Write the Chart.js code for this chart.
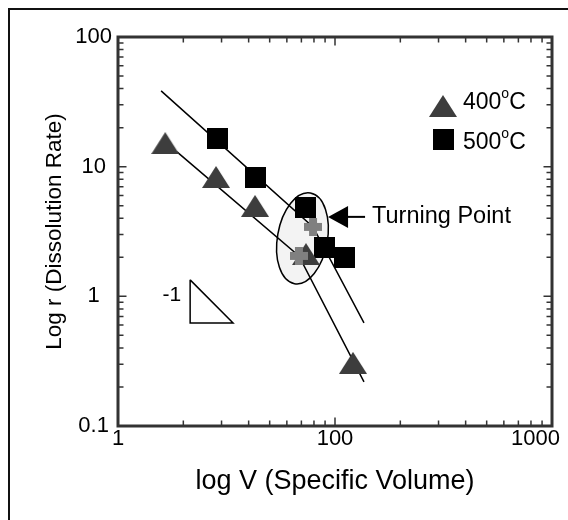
<!DOCTYPE html>
<html>
<head>
<meta charset="utf-8">
<script src="https://cdn.jsdelivr.net/npm/chart.js@4.4.1/dist/chart.umd.min.js"></script>
<style>
  html, body { margin: 0; padding: 0; background: #fff; }
</style>
</head>
<body>
<canvas id="dissolution" width="568" height="520"></canvas>
<script>
// Values: V = specific volume, r = dissolution rate
const v400 = [16.5, 28.3, 42.8, 73.5, 121]
const r400 = [15.2, 8.33, 4.98, 2.12, 0.307]
const v500 = [28.6, 43.2, 73.5, 89.9, 111]
const r500 = [16.4, 8.18, 4.8, 2.4, 2.01]
const vTurn = [79.2, 68.2]
const rTurn = [3.43, 2.05]

// fitted lines, bending at the turning points
const vFit500 = [15.8, 79.2, 136]
const rFit500 = [38.4, 3.43, 0.624]
const vFit400 = [18.7, 68.2, 136]
const rFit400 = [13.0, 2.05, 0.219]

// slope marker triangle
const vSlope = [21.5, 21.5, 33.9, 21.5]
const rSlope = [1.34, 0.624, 0.624, 1.34]

// axis labels as printed on the figure
const xTickValues = [10, 100, 1000]
const xTickLabels = ['1', '100', '1000']
const yTickValues = [0.1, 1, 10, 100]
const yTickLabels = ['0.1', '1', '10', '100']

// annotations (anchored in data units)
const ellipse = { v: 70.8, r: 2.8, rx: 25, ry: 46, angle: 10 }
const turnArrow = { v: 92.9, r: 4.1, text: 'Turning Point' }

const FONT = 'Arial, "Liberation Sans", Helvetica, sans-serif'
const pts = (xs, ys) => xs.map((x, i) => ({ x, y: ys[i] }))

function marker(w, h, draw) {
  const c = document.createElement('canvas')
  c.width = w
  c.height = h
  draw(c.getContext('2d'))
  return c
}
const triMark = marker(28, 22, g => {
  g.fillStyle = '#3d3d3d'
  g.beginPath()
  g.moveTo(14, 0)
  g.lineTo(28, 22)
  g.lineTo(0, 22)
  g.closePath()
  g.fill()
})
const sqMark = marker(21, 21, g => {
  g.fillStyle = '#000'
  g.fillRect(0, 0, 21, 21)
})
const crossMark = marker(18, 18, g => {
  g.fillStyle = '#808080'
  g.fillRect(5, 0, 8, 18)
  g.fillRect(0, 5, 18, 8)
})

const lineStyle = {
  showLine: true,
  borderColor: '#000',
  borderWidth: 1.5,
  pointRadius: 0,
  fill: false,
}

function pickLabel(values, labels, v) {
  const i = values.findIndex(t => Math.abs(Math.log10(t) - Math.log10(v)) < 1e-6)
  return i < 0 ? '' : labels[i]
}

// frame, inward ticks, x labels, legend and notes
const decor = {
  id: 'decor',
  beforeDraw(chart) {
    const { ctx, width, height } = chart
    ctx.save()
    ctx.fillStyle = '#fff'
    ctx.fillRect(0, 0, width, height)
    ctx.strokeStyle = '#111'
    ctx.lineWidth = 2
    ctx.beginPath()
    ctx.moveTo(9, height)
    ctx.lineTo(9, 9)
    ctx.lineTo(width, 9)
    ctx.stroke()
    ctx.restore()
  },
  beforeDatasetsDraw(chart) {
    const { ctx, scales: { x, y } } = chart
    const cx = x.getPixelForValue(ellipse.v)
    const cy = y.getPixelForValue(ellipse.r)
    ctx.save()
    ctx.beginPath()
    ctx.ellipse(cx, cy, ellipse.rx, ellipse.ry, ellipse.angle * Math.PI / 180, 0, 2 * Math.PI)
    ctx.fillStyle = '#f3f3f3'
    ctx.fill()
    ctx.strokeStyle = '#000'
    ctx.lineWidth = 1.5
    ctx.stroke()
    ctx.restore()
  },
  afterDraw(chart) {
    const { ctx, width, scales: { x, y } } = chart
    const { left, right, top, bottom } = chart.chartArea
    ctx.save()

    // plot box
    ctx.strokeStyle = '#333'
    ctx.lineWidth = 3
    ctx.strokeRect(left, top, right - left, bottom - top)

    // inward ticks on all four sides
    ctx.lineWidth = 1.5
    ctx.beginPath()
    for (const dec of [10, 100]) {
      for (let m = 1; m <= 9; m++) {
        const px = x.getPixelForValue(m * dec)
        const len = (m === 1 ? 7 : 4) + 1.5
        ctx.moveTo(px, bottom); ctx.lineTo(px, bottom - len)
        ctx.moveTo(px, top); ctx.lineTo(px, top + len)
      }
    }
    for (const dec of [0.1, 1, 10]) {
      for (let m = 1; m <= 9; m++) {
        const py = y.getPixelForValue(m * dec)
        const len = (m === 1 ? 7 : 4) + 1.5
        ctx.moveTo(left, py); ctx.lineTo(left + len, py)
        ctx.moveTo(right, py); ctx.lineTo(right - len, py)
      }
    }
    ctx.stroke()

    // x tick labels, kept inside the picture
    ctx.fillStyle = '#000'
    ctx.font = '22px ' + FONT
    ctx.textAlign = 'center'
    ctx.textBaseline = 'top'
    xTickValues.forEach((v, i) => {
      const w = ctx.measureText(xTickLabels[i]).width
      const cx = Math.min(x.getPixelForValue(v), width - 8 - w / 2)
      ctx.fillText(xTickLabels[i], cx, bottom + 2)
    })

    // slope label
    const sx = x.getPixelForValue(vSlope[0])
    const sy = y.getPixelForValue(rSlope[0])
    ctx.font = '21px ' + FONT
    ctx.textAlign = 'right'
    ctx.textBaseline = 'middle'
    ctx.fillText('-1', sx - 9, sy + 15)

    // turning point arrow
    const ax = x.getPixelForValue(turnArrow.v)
    const ay = y.getPixelForValue(turnArrow.r)
    ctx.beginPath()
    ctx.moveTo(ax, ay)
    ctx.lineTo(ax + 20, ay - 11)
    ctx.lineTo(ax + 20, ay + 11)
    ctx.closePath()
    ctx.fill()
    ctx.strokeStyle = '#000'
    ctx.lineWidth = 2
    ctx.beginPath()
    ctx.moveTo(ax + 18, ay)
    ctx.lineTo(ax + 37, ay)
    ctx.stroke()
    ctx.textAlign = 'left'
    ctx.font = '23.5px ' + FONT
    ctx.fillText(turnArrow.text, ax + 44, ay)

    // legend
    const items = [
      { img: triMark, label: '400', dy: 69, ty: 66 },
      { img: sqMark, label: '500', dy: 102, ty: 106 },
    ]
    const lx = right - 109
    items.forEach(it => {
      ctx.drawImage(it.img, lx - it.img.width / 2, top + it.dy - it.img.height / 2)
      let tx = lx + 20
      const ty = top + it.ty
      ctx.font = '23px ' + FONT
      ctx.fillText(it.label, tx, ty)
      tx += ctx.measureText(it.label).width
      ctx.font = '14px ' + FONT
      ctx.fillText('o', tx, ty - 9)
      tx += ctx.measureText('o').width
      ctx.font = '23px ' + FONT
      ctx.fillText('C', tx, ty)
    })
    ctx.restore()
  },
}

new Chart(document.getElementById('dissolution'), {
  type: 'scatter',
  data: {
    datasets: [
      { label: 'Turning point', data: pts(vTurn, rTurn), pointStyle: crossMark },
      { label: '400°C', data: pts(v400, r400), pointStyle: triMark },
      { label: '500°C', data: pts(v500, r500), pointStyle: sqMark },
      { label: 'fit 500', data: pts(vFit500, rFit500), ...lineStyle },
      { label: 'fit 400', data: pts(vFit400, rFit400), ...lineStyle },
      { label: 'slope', data: pts(vSlope, rSlope), ...lineStyle },
    ],
  },
  options: {
    responsive: false,
    animation: false,
    layout: { padding: { top: 37, right: 16, left: 0, bottom: 0 } },
    plugins: {
      legend: { display: false },
      tooltip: { enabled: false },
    },
    scales: {
      x: {
        type: 'logarithmic',
        min: 10,
        max: 1000,
        grid: { display: false, drawTicks: false },
        border: { display: false },
        ticks: { display: false },
        afterBuildTicks: s => { s.ticks = xTickValues.map(value => ({ value })) },
        afterFit: s => {
          s.height = 94
          s.paddingLeft = 0
          s.paddingRight = 0
        },
        title: {
          display: true,
          text: 'log V (Specific Volume)',
          color: '#000',
          font: { size: 27, family: FONT },
          padding: { top: 0, bottom: 22 },
        },
      },
      y: {
        type: 'logarithmic',
        min: 0.1,
        max: 100,
        grid: { display: false, drawTicks: false },
        border: { display: false },
        ticks: {
          color: '#000',
          font: { size: 22, family: FONT },
          padding: 6,
          crossAlign: 'center',
          callback: v => pickLabel(yTickValues, yTickLabels, v),
        },
        afterBuildTicks: s => { s.ticks = yTickValues.map(value => ({ value })) },
        afterFit: s => {
          s.width = 118
          s.paddingTop = 0
          s.paddingBottom = 0
        },
        title: {
          display: true,
          text: 'Log r (Dissolution Rate)',
          color: '#000',
          font: { size: 22.5, family: FONT },
          padding: { top: 41, bottom: 0 },
        },
      },
    },
  },
  plugins: [decor],
})
</script>
</body>
</html>
